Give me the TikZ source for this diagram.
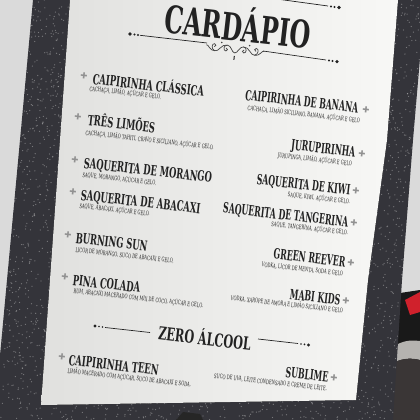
\documentclass[tikz,border=0pt]{standalone}
\usepackage{fontspec}
\newfontfamily\menufont[FakeStretch=0.63]{DejaVu Serif}
\newfontfamily\recipefont[FakeStretch=0.6]{DejaVu Serif}
\newfontfamily\symfont{DejaVu Sans}
\definecolor{ink}{HTML}{222222}
\definecolor{framegray}{HTML}{34343A}
\definecolor{wall}{HTML}{DADADA}
\definecolor{paperl}{HTML}{E0E0DE}
\definecolor{paperr}{HTML}{F8F8F6}
\definecolor{redthing}{HTML}{D0212C}
\definecolor{metal}{HTML}{B5B3B0}
\definecolor{shadowthing}{HTML}{3A3636}
\usetikzlibrary{positioning}
\tikzset{
  tilt/.style={rotate=-6.5},
  heading/.style={tilt, inner sep=0pt, text=ink, font=\menufont\bfseries\fontsize{27}{27}\selectfont},
  section/.style={tilt, inner sep=0pt, text=ink, font=\menufont\bfseries\fontsize{12.7}{13}\selectfont},
  dish/.style={tilt, xscale=0.95, inner sep=0pt, text=ink, font=\menufont\bfseries\fontsize{10}{10}\selectfont},
  dishr/.style={dish, xscale=0.93},
  recipe/.style={tilt, inner sep=0pt, text=ink, font=\recipefont\fontsize{4.4}{5}\selectfont},
  plusmark/.style={tilt, inner sep=0pt, text=ink!50, font=\symfont\fontsize{6}{6}\selectfont},
  rule/.style={ink, line width=0.5pt},
}

\begin{document}
\begin{tikzpicture}[x=0.025cm, y=-0.025cm]
\useasboundingbox (0,0) rectangle (420,420);
\clip (0,0) rectangle (420,420);

% background and the things lying at the lower right
\fill[wall] (0,0) rectangle (420,420);
\fill[black!90] (400,293) -- (420,290) -- (420,420) -- (392,420) -- cycle;
\fill[redthing] (405,300) -- (420,292) -- (420,312) -- (410,315) -- cycle;
\fill[metal] (396,345) .. controls (405,340) and (413,340) .. (420,341) -- (420,360) .. controls (412,358) and (404,358) .. (395,362) -- cycle;
\fill[shadowthing] (395,362) .. controls (404,358) and (412,358) .. (420,360) -- (420,420) -- (392,420) -- cycle;

% frame, with speckles
\fill[framegray] (33,0) -- (425,0) -- (413,140) -- (402,280) -- (393,420) -- (-6,420) -- cycle;
\begin{scope}
  \clip (33,0) -- (425,0) -- (413,140) -- (402,280) -- (393,420) -- (-6,420) -- cycle;
  \pgfmathsetseed{7}
  \foreach \i in {1,...,5000}
    \fill[gray!50, opacity=.5] ({rnd*430},{rnd*420}) circle (0.45pt);
\end{scope}

% paper
\fill[left color=paperl, right color=paperr] (70,0) -- (398,0) -- (387,140) -- (368,280) -- (356,400) -- (41,405) -- cycle;
\fill[black!85] (176,420) -- (183,412) -- (200,414) -- (203,420) -- cycle;

% heading
\node[heading, anchor=base] (title) at (236,41) {CARDÁPIO};
\draw[rule] (240,-6) -- (328,6);
\fill[ink] (331,6.4) circle (0.8pt) (334.5,6.9) circle (0.8pt) (339,7.5) circle (1.3pt);
\fill[ink] (130,34) circle (1.3pt) (134.5,34.5) circle (0.8pt) (138,35) circle (0.8pt);
\draw[rule] (140,35.3) -- (207,43);
\draw[rule] (263,51) -- (326,60);
\fill[ink] (329,60.5) circle (0.8pt) (332.5,61) circle (0.8pt) (337,61.6) circle (1.3pt);
\begin{scope}[shift={(235,50)}, rotate=-6.5]
  \foreach \s in {1,-1} {
    \begin{scope}[xscale=\s, ink!85, line width=0.5pt]
      \draw (0,3) .. controls (3,3) and (4,-4) .. (8,-4) .. controls (12,-4) and (12,2) .. (9,2) .. controls (7,2) and (7,-1) .. (9,-1);
      \draw (8,-4) .. controls (14,-5) and (16,4) .. (20,3) .. controls (24,2) and (24,-4) .. (21,-4) .. controls (19,-4) and (19,-1) .. (21,-1);
      \draw (20,3) .. controls (25,4) and (27,-3) .. (29,-2);
      \fill (14,-6) circle (0.6pt);
    \end{scope}
  }
  \draw[ink, line width=0.7pt] (0,6) -- (0,10);
\end{scope}

% left column
\node[plusmark] (p1) at (84,76) {✚};
\node[dish, anchor=base west] (d1) at (92,84) {CAIPIRINHA CLÁSSICA};
\node[recipe, anchor=base west] (r1) at (89,91) {CACHAÇA, LIMÃO, AÇÚCAR E GELO.};
\node[plusmark] (p2) at (78,117) {✚};
\node[dish, anchor=base west] (d2) at (87,125) {TRÊS LIMÕES};
\node[recipe, anchor=base west] (r2) at (85,135) {CACHAÇA, LIMÃO TAHITI, CRAVO E SICILIANO, AÇÚCAR E GELO.};
\node[plusmark] (p3) at (75,160) {✚};
\node[dish, anchor=base west] (d3) at (83,168) {SAQUERITA DE MORANGO};
\node[recipe, anchor=base west] (r3) at (82,177) {SAQUE, MORANGO, AÇÚCAR E GELO.};
\node[plusmark] (p4) at (73,192) {✚};
\node[dish, anchor=base west] (d4) at (80,200) {SAQUERITA DE ABACAXI};
\node[recipe, anchor=base west] (r4) at (79,208) {SAQUE, ABACAXI, AÇÚCAR E GELO.};
\node[plusmark] (p5) at (68,235) {✚};
\node[dish, anchor=base west] (d5) at (75,243) {BURNING SUN};
\node[recipe, anchor=base west] (r5) at (75,252) {LICOR DE MORANGO, SUCO DE ABACAXI E GELO.};
\node[plusmark] (p6) at (65,277) {✚};
\node[dish, anchor=base west] (d6) at (72,285) {PINA COLADA};
\node[recipe, anchor=base west] (r6) at (73,293) {RUM, ABACAXI MACERADO COM MIX DE COCO, AÇÚCAR E GELO.};

% right column
\node[plusmark] (q1) at (366,110) {✚};
\node[dishr, anchor=base east] (e1) at (358,113) {CAIPIRINHA DE BANANA};
\node[recipe, anchor=base east] (f1) at (360,123) {CACHAÇA, LIMÃO SICILIANO, BANANA, AÇÚCAR E GELO};
\node[plusmark] (q2) at (362,154) {✚};
\node[dishr, anchor=base east] (e2) at (355,157) {JURUPIRINHA};
\node[recipe, anchor=base east] (f2) at (352,166) {JURUPINGA, LIMÃO, AÇÚCAR E GELO};
\node[plusmark] (q3) at (356,191) {✚};
\node[dishr, anchor=base east] (e3) at (350,195) {SAQUERITA DE KIWI};
\node[recipe, anchor=base east] (f3) at (350,204) {SAQUE, KIWI, AÇÚCAR E GELO.};
\node[plusmark] (q4) at (354,223) {✚};
\node[dishr, anchor=base east] (e4) at (348,227) {SAQUERITA DE TANGERINA};
\node[recipe, anchor=base east] (f4) at (348,235) {SAQUE, TANGERINA, AÇÚCAR E GELO.};
\node[plusmark] (q5) at (351,263) {✚};
\node[dishr, anchor=base east] (e5) at (345,267) {GREEN REEVER};
\node[recipe, anchor=base east] (f5) at (343,276) {VODKA, LICOR DE MENTA, SODA E GELO};
\node[plusmark] (q6) at (346,301) {✚};
\node[dishr, anchor=base east] (e6) at (340,305) {MABI KIDS};
\node[recipe, anchor=base east] (f6) at (343,313) {VODKA, XAROPE DE AMORA E LIMÃO SICILIANO E GELO};

% zero alcool
\node[section, anchor=base] (zero) at (204,345) {ZERO ÁLCOOL};
\fill[ink] (95,326) circle (1.2pt) (99,326.5) circle (0.7pt) (102.5,327) circle (0.7pt);
\draw[rule] (105,327.5) -- (150,332.5);
\draw[rule] (258,339) -- (298,343.5);
\fill[ink] (301,344) circle (0.7pt) (304.5,344.4) circle (0.7pt) (308.5,345) circle (1.2pt);
\node[plusmark] (p7) at (62,357) {✚};
\node[dish, anchor=base west] (d7) at (68,365) {CAIPIRINHA TEEN};
\node[recipe, anchor=base west] (r7) at (67,373) {LIMÃO MACERADO COM AÇÚCAR, SUCO DE ABACAXI E SODA.};
\node[plusmark] (q7) at (334,378) {✚};
\node[dishr, anchor=base east] (e7) at (328,382) {SUBLIME};
\node[recipe, anchor=base east] (f7) at (327,391) {SUCO DE UVA, LEITE CONDENSADO E CREME DE LEITE.};
\end{tikzpicture}
\end{document}
